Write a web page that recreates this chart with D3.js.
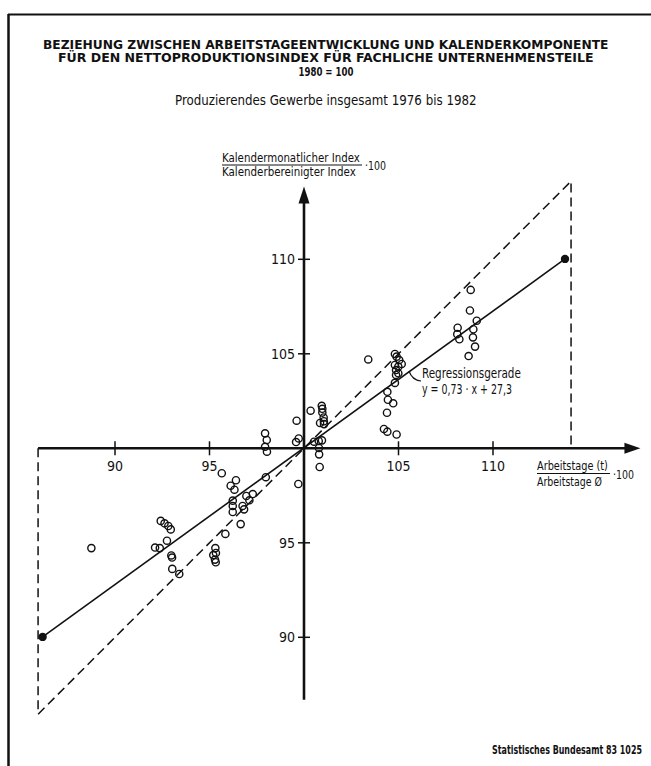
<!DOCTYPE html>
<html>
<head>
<meta charset="utf-8">
<script src="https://cdn.jsdelivr.net/npm/d3@7"></script>
<style>
  body { margin: 0; background: #fff; }
  text { font-family: "Liberation Sans Narrow", "DejaVu Sans Condensed", "Roboto", sans-serif; fill: #111; }
</style>
</head>
<body>
<div id="chart"></div>
<script>
// Ticks on both axes
const xTicks = [90, 95, 105, 110];
const yTicks = [90, 95, 105, 110];

// Observations: [Arbeitstage (t)/Arbeitstage Ø ·100, Kalendermonatlicher/Kalenderbereinigter Index ·100]
const observations = [
  [88.75, 94.72], [92.42, 96.16], [92.62, 96.03], [92.82, 95.89], [92.95, 95.71],
  [92.75, 95.11], [92.12, 94.75], [92.37, 94.72], [92.98, 94.33], [93.02, 94.22],
  [93.03, 93.62], [93.40, 93.35], [95.31, 94.72], [95.34, 94.46], [95.20, 94.35],
  [95.29, 94.11], [95.33, 93.97], [95.84, 95.47], [95.65, 98.68], [96.40, 98.31],
  [96.12, 98.02], [96.32, 97.81], [96.95, 97.48], [97.29, 97.58], [97.11, 97.25],
  [96.23, 97.23], [96.23, 96.95], [96.23, 96.63], [96.75, 96.95], [96.83, 96.77],
  [96.65, 95.99], [97.98, 98.47], [97.94, 100.79], [98.03, 100.44], [97.94, 100.08],
  [98.04, 99.82], [99.61, 101.46], [99.58, 100.33], [99.72, 100.52], [99.70, 98.11],
  [100.35, 101.99], [100.94, 102.25], [100.97, 102.09], [100.97, 101.89], [101.04, 101.63],
  [101.05, 101.43], [100.85, 101.34], [101.06, 101.28], [100.53, 100.35], [100.78, 100.39],
  [100.95, 100.42], [100.79, 100.02], [100.80, 99.68], [100.83, 99.01], [103.40, 104.70],
  [104.81, 104.99], [104.90, 104.85], [105.04, 104.67], [105.17, 104.46], [104.81, 104.41],
  [104.99, 104.32], [104.87, 104.14], [104.99, 103.97], [104.87, 103.88], [104.81, 103.46],
  [104.41, 102.99], [104.44, 102.57], [104.72, 102.38], [104.39, 101.88], [104.23, 101.02],
  [104.41, 100.88], [104.90, 100.73], [108.82, 108.38], [108.78, 107.29], [109.14, 106.75],
  [108.13, 106.38], [108.11, 106.04], [108.22, 105.77], [108.96, 106.30], [108.94, 105.87],
  [109.05, 105.38], [108.71, 104.88]
];

// Regression line end points (filled dots) and the 45° reference line
const regressionEnds = [[86.17, 90.02], [113.81, 110.02]];
const diagonalEnds = [85.93, 114.13];
const origin = 100;

const width = 651, height = 766;

const svg = d3.select("#chart")
  .append("svg")
  .attr("width", width)
  .attr("height", height);

// Condensed text: squeeze a text horizontally so it spans w pixels starting at x0
function fitText(x0, y0, w, str, size, bold) {
  const t = svg.append("text")
    .attr("font-size", size)
    .attr("font-weight", bold ? "bold" : "normal")
    .text(str);
  const k = w / t.node().getComputedTextLength();
  t.attr("transform", `translate(${x0},${y0}) scale(${k},1)`);
  return t;
}

// Scales (same unit length on both axes)
const x = d3.scaleLinear().domain([90, 110]).range([115.0, 493.0]);
const y = d3.scaleLinear().domain([90, 110]).range([637.3, 259.3]);

// Frame (left and top edge of the printed page)
svg.append("line").attr("x1", 8.5).attr("y1", 14).attr("x2", 8.5).attr("y2", height)
  .attr("stroke", "#111").attr("stroke-width", 2.5);
svg.append("line").attr("x1", 8).attr("y1", 14.5).attr("x2", width).attr("y2", 14.5)
  .attr("stroke", "#111").attr("stroke-width", 2);

// Titles (centred at x = 326)
fitText(326 - 283, 49, 566, "BEZIEHUNG ZWISCHEN ARBEITSTAGEENTWICKLUNG UND KALENDERKOMPONENTE", 12.5, true);
fitText(326 - 268, 62, 536, "FÜR DEN NETTOPRODUKTIONSINDEX FÜR FACHLICHE UNTERNEHMENSTEILE", 12.5, true);
fitText(326 - 27.5, 75.5, 55, "1980 = 100", 12.5, true);
fitText(326 - 151, 105, 302, "Produzierendes Gewerbe insgesamt 1976 bis 1982", 14, false);

// Dashed 45° line with verticals down/up to the x axis
const dash = d3.line().x(d => x(d[0])).y(d => y(d[1]));
svg.append("path")
  .attr("d", dash([[diagonalEnds[0], origin], [diagonalEnds[0], diagonalEnds[0]], [diagonalEnds[1], diagonalEnds[1]], [diagonalEnds[1], origin]]))
  .attr("fill", "none")
  .attr("stroke", "#111")
  .attr("stroke-width", 1.5)
  .attr("stroke-dasharray", "9,5");

// Axes lines
const xAxisEnd = 117.8, yAxisTop = 113.85, yAxisBottom = 86.7;
svg.append("line")
  .attr("x1", x(diagonalEnds[0])).attr("x2", x(xAxisEnd) - 10)
  .attr("y1", y(origin)).attr("y2", y(origin))
  .attr("stroke", "#111").attr("stroke-width", 2.6);
svg.append("line")
  .attr("x1", x(origin)).attr("x2", x(origin))
  .attr("y1", y(yAxisBottom)).attr("y2", y(yAxisTop) + 10)
  .attr("stroke", "#111").attr("stroke-width", 2.6);

// Arrow heads
const xt = x(xAxisEnd), yo = y(origin), xo = x(origin), yt = y(yAxisTop);
svg.append("path")
  .attr("d", `M${xt},${yo} L${xt - 16},${yo - 5.5} L${xt - 16},${yo + 5.5} Z`)
  .attr("fill", "#111");
svg.append("path")
  .attr("d", `M${xo},${yt} L${xo - 5.5},${yt + 17} L${xo + 5.5},${yt + 17} Z`)
  .attr("fill", "#111");

// Tick marks and labels on x axis
svg.selectAll("line.xtick")
  .data(xTicks)
  .join("line")
  .attr("class", "xtick")
  .attr("x1", d => x(d)).attr("x2", d => x(d))
  .attr("y1", yo - 7).attr("y2", yo + 7)
  .attr("stroke", "#111").attr("stroke-width", 1.5);
svg.selectAll("text.xlab")
  .data(xTicks)
  .join("text")
  .attr("class", "xlab")
  .attr("x", d => x(d))
  .attr("y", yo + 23)
  .attr("text-anchor", "middle")
  .attr("font-size", 14)
  .text(d => d);

// Tick marks and labels on y axis
svg.selectAll("line.ytick")
  .data(yTicks)
  .join("line")
  .attr("class", "ytick")
  .attr("x1", xo - 6).attr("x2", xo + 6)
  .attr("y1", d => y(d)).attr("y2", d => y(d))
  .attr("stroke", "#111").attr("stroke-width", 1.5);
svg.selectAll("text.ylab")
  .data(yTicks)
  .join("text")
  .attr("class", "ylab")
  .attr("x", xo - 9)
  .attr("y", d => y(d) + 5)
  .attr("text-anchor", "end")
  .attr("font-size", 14)
  .text(d => d);

// Y axis title as a fraction
fitText(222, 162, 138, "Kalendermonatlicher Index", 12.5, false);
svg.append("line").attr("x1", 222).attr("x2", 362).attr("y1", 165).attr("y2", 165)
  .attr("stroke", "#111").attr("stroke-width", 1);
fitText(222, 176, 134, "Kalenderbereinigter Index", 12.5, false);
fitText(365, 170, 21, "·100", 12.5, false);

// X axis title as a fraction
fitText(537, 470, 71, "Arbeitstage (t)", 13, false);
svg.append("line").attr("x1", 537).attr("x2", 610).attr("y1", 473.5).attr("y2", 473.5)
  .attr("stroke", "#111").attr("stroke-width", 1);
fitText(537, 486, 65, "Arbeitstage Ø", 13, false);
fitText(613, 479, 21, "·100", 12.5, false);

// Regression line with end dots
svg.append("path")
  .attr("d", dash(regressionEnds))
  .attr("fill", "none")
  .attr("stroke", "#111")
  .attr("stroke-width", 1.6);
svg.selectAll("circle.end")
  .data(regressionEnds)
  .join("circle")
  .attr("class", "end")
  .attr("cx", d => x(d[0]))
  .attr("cy", d => y(d[1]))
  .attr("r", 4.2)
  .attr("fill", "#111");

// Observations as open circles
svg.selectAll("circle.obs")
  .data(observations)
  .join("circle")
  .attr("class", "obs")
  .attr("cx", d => x(d[0]))
  .attr("cy", d => y(d[1]))
  .attr("r", 3.6)
  .attr("fill", "none")
  .attr("stroke", "#111")
  .attr("stroke-width", 1.4);

// Regression label with leader
svg.append("path")
  .attr("d", "M409,371 Q412,380 421,381")
  .attr("fill", "none").attr("stroke", "#111").attr("stroke-width", 1.2);
fitText(422, 378, 99, "Regressionsgerade", 14, false);
fitText(422, 394, 90, "y = 0,73 · x + 27,3", 14, false);

// Source
fitText(492, 754, 150, "Statistisches Bundesamt 83 1025", 11.5, true);
</script>
</body>
</html>
